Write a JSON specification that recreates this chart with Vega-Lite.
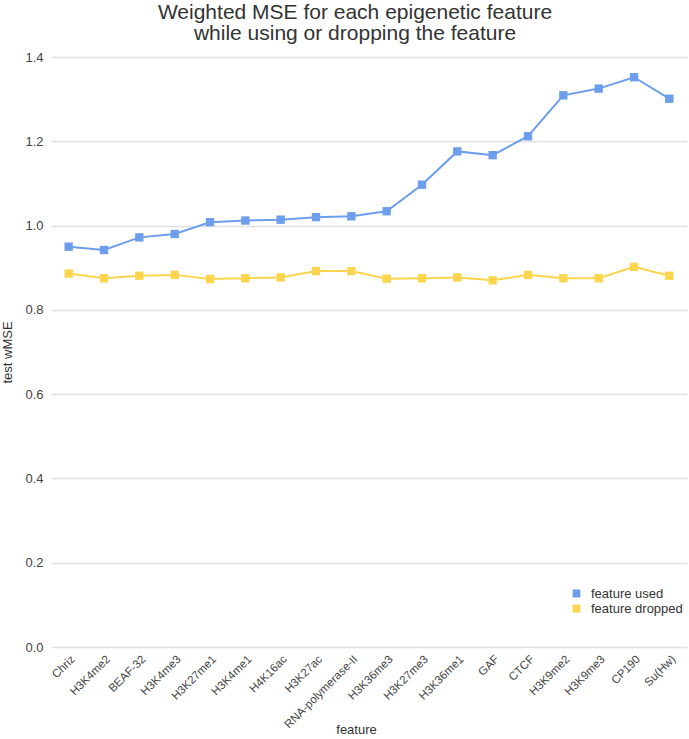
{
  "$schema": "https://vega.github.io/schema/vega-lite/v6.json",
  "width": 636,
  "height": 590,
  "autosize": "none",
  "padding": {"left": 51, "top": 57, "right": 2, "bottom": 92},
  "background": "white",
  "title": {
    "text": ["Weighted MSE for each epigenetic feature", "while using or dropping the feature"],
    "font": "Liberation Sans",
    "fontSize": 21,
    "fontWeight": "normal",
    "color": "#333333",
    "anchor": "middle",
    "frame": "group",
    "dx": -14,
    "offset": 7,
    "lineHeight": 21
  },
  "config": {
    "view": {"stroke": null},
    "font": "Liberation Sans",
    "axis": {"labelFont": "Liberation Sans", "titleFont": "Liberation Sans", "labelColor": "#444444", "titleColor": "#333333", "titleFontWeight": "normal"}
  },
  "data": {
    "values": [
      {"feature": "Chriz", "series": "feature used", "value": 0.950},
      {"feature": "H3K4me2", "series": "feature used", "value": 0.942},
      {"feature": "BEAF-32", "series": "feature used", "value": 0.972},
      {"feature": "H3K4me3", "series": "feature used", "value": 0.980},
      {"feature": "H3K27me1", "series": "feature used", "value": 1.008},
      {"feature": "H3K4me1", "series": "feature used", "value": 1.012},
      {"feature": "H4K16ac", "series": "feature used", "value": 1.014},
      {"feature": "H3K27ac", "series": "feature used", "value": 1.020},
      {"feature": "RNA-polymerase-II", "series": "feature used", "value": 1.022},
      {"feature": "H3K36me3", "series": "feature used", "value": 1.034},
      {"feature": "H3K27me3", "series": "feature used", "value": 1.097},
      {"feature": "H3K36me1", "series": "feature used", "value": 1.176},
      {"feature": "GAF", "series": "feature used", "value": 1.167},
      {"feature": "CTCF", "series": "feature used", "value": 1.212},
      {"feature": "H3K9me2", "series": "feature used", "value": 1.309},
      {"feature": "H3K9me3", "series": "feature used", "value": 1.325},
      {"feature": "CP190", "series": "feature used", "value": 1.352},
      {"feature": "Su(Hw)", "series": "feature used", "value": 1.301},
      {"feature": "Chriz", "series": "feature dropped", "value": 0.886},
      {"feature": "H3K4me2", "series": "feature dropped", "value": 0.875},
      {"feature": "BEAF-32", "series": "feature dropped", "value": 0.881},
      {"feature": "H3K4me3", "series": "feature dropped", "value": 0.883},
      {"feature": "H3K27me1", "series": "feature dropped", "value": 0.873},
      {"feature": "H3K4me1", "series": "feature dropped", "value": 0.875},
      {"feature": "H4K16ac", "series": "feature dropped", "value": 0.877},
      {"feature": "H3K27ac", "series": "feature dropped", "value": 0.892},
      {"feature": "RNA-polymerase-II", "series": "feature dropped", "value": 0.892},
      {"feature": "H3K36me3", "series": "feature dropped", "value": 0.874},
      {"feature": "H3K27me3", "series": "feature dropped", "value": 0.875},
      {"feature": "H3K36me1", "series": "feature dropped", "value": 0.877},
      {"feature": "GAF", "series": "feature dropped", "value": 0.870},
      {"feature": "CTCF", "series": "feature dropped", "value": 0.883},
      {"feature": "H3K9me2", "series": "feature dropped", "value": 0.875},
      {"feature": "H3K9me3", "series": "feature dropped", "value": 0.875},
      {"feature": "CP190", "series": "feature dropped", "value": 0.902},
      {"feature": "Su(Hw)", "series": "feature dropped", "value": 0.881}
    ]
  },
  "encoding": {
    "x": {
      "field": "feature",
      "type": "nominal",
      "sort": null,
      "scale": {"type": "point", "padding": 0.5},
      "axis": {"title": "feature", "labelAngle": -45, "labelFontSize": 11.5, "titleFontSize": 13, "domain": false, "ticks": false, "labelPadding": 6, "grid": false, "titleX": 305, "titleY": 86, "titleBaseline": "alphabetic"}
    },
    "y": {
      "field": "value",
      "type": "quantitative",
      "scale": {"domain": [0, 1.4], "nice": false},
      "axis": {"title": "test wMSE", "values": [0, 0.2, 0.4, 0.6, 0.8, 1.0, 1.2, 1.4], "format": ".1f", "labelFontSize": 13, "titleFontSize": 13, "domain": false, "ticks": false, "gridColor": "#e0e0e0", "gridWidth": 1.5, "labelPadding": 8, "titlePadding": 10}
    },
    "color": {
      "field": "series",
      "type": "nominal",
      "scale": {"domain": ["feature used", "feature dropped"], "range": ["#6d9eeb", "#fbd54d"]},
      "legend": {"title": null, "orient": "none", "legendX": 519, "legendY": 530, "symbolType": "square", "symbolSize": 40, "labelFontSize": 13, "labelColor": "#333333", "rowPadding": 1, "labelOffset": 8, "symbolOpacity": 1}
    }
  },
  "layer": [
    {"mark": {"type": "line", "strokeWidth": 2}},
    {"mark": {"type": "point", "shape": "square", "filled": true, "size": 70, "opacity": 1}}
  ]
}
